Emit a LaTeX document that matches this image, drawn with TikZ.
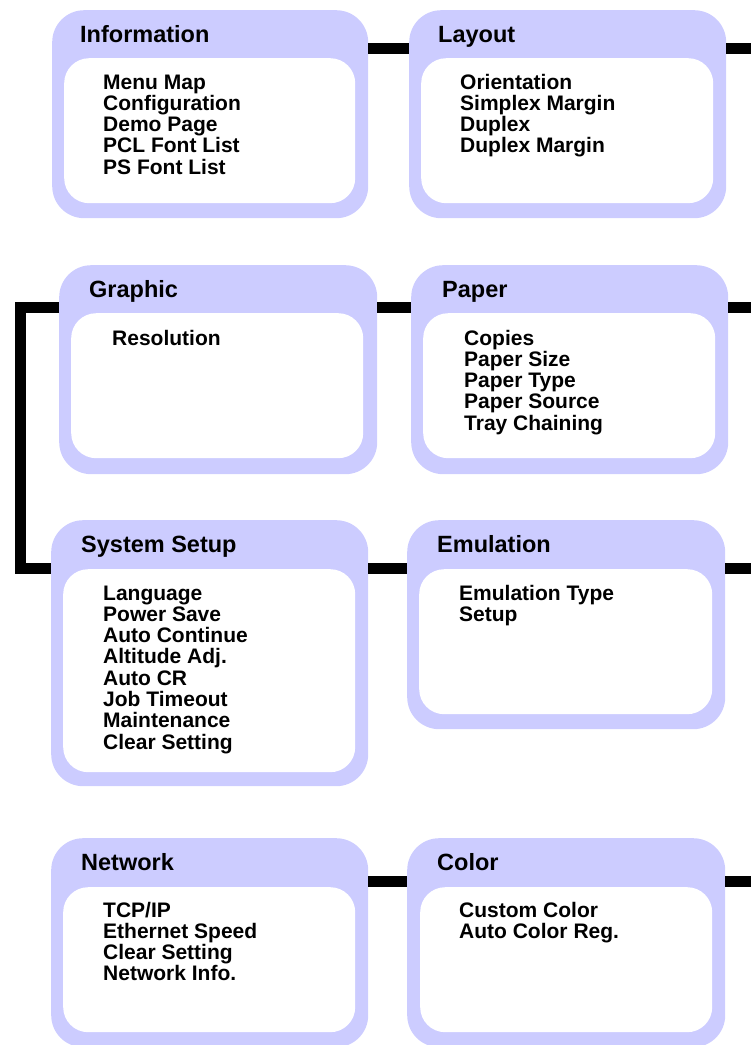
\documentclass[tikz,border=0pt]{standalone}
\usepackage{fontspec}
\setmainfont{Liberation Sans}
\definecolor{lav}{RGB}{204,204,255}
\newcommand\ttlfont{\fontsize{23.5}{24}\selectfont\bfseries}
\newcommand\itmfont{\fontsize{21}{21.3}\selectfont\bfseries}
\tikzset{
  outerbox/.style={fill=lav, draw=none, rounded corners=32pt, inner sep=0pt, anchor=north west},
  innerbox/.style={fill=white, draw=none, rounded corners=25pt, inner sep=0pt, anchor=north west},
  ttl/.style={anchor=base west, inner sep=0pt, font=\ttlfont},
  itm/.style={anchor=base west, inner sep=0pt, font=\itmfont},
  conn/.style={line width=11pt, black, line join=miter}
}
\begin{document}
\begin{tikzpicture}[x=1pt, y=-1pt]
\useasboundingbox (0,0) rectangle (751,1045);
% row coordinates for connectors
\coordinate (r1) at (0,48.5);
\coordinate (r2) at (0,307.5);
\coordinate (r3) at (0,568.5);
\coordinate (r4) at (0,881);
\coordinate (bx) at (20.5,0);
\coordinate (e1) at (751,48.5);
\coordinate (e2) at (751,307.5);
\coordinate (e3) at (751,568.5);
\coordinate (e4) at (751,881);

% outer boxes
\node[outerbox, minimum width=316pt, minimum height=208pt] (info) at (52,10) {};
\node[outerbox, minimum width=317pt, minimum height=208pt] (layout) at (409,10) {};
\node[outerbox, minimum width=318pt, minimum height=209pt] (graph) at (59,265) {};
\node[outerbox, minimum width=317pt, minimum height=209pt] (paper) at (411,265) {};
\node[outerbox, minimum width=317pt, minimum height=266pt] (sys) at (51,520) {};
\node[outerbox, minimum width=318pt, minimum height=209pt] (emu) at (407,520) {};
\node[outerbox, minimum width=317pt, minimum height=209pt] (net) at (51,838) {};
\node[outerbox, minimum width=318pt, minimum height=209pt] (col) at (407,838) {};

% inner boxes
\node[innerbox, minimum width=291pt, minimum height=145pt] (infoin) at (64,58) {};
\node[innerbox, minimum width=292pt, minimum height=145pt] (layoutin) at (421,58) {};
\node[innerbox, minimum width=292pt, minimum height=145pt] (graphin) at (71,313) {};
\node[innerbox, minimum width=292pt, minimum height=145pt] (paperin) at (423,313) {};
\node[innerbox, minimum width=292pt, minimum height=203pt] (sysin) at (63,569) {};
\node[innerbox, minimum width=293pt, minimum height=145pt] (emuin) at (419,569) {};
\node[innerbox, minimum width=292pt, minimum height=145pt] (netin) at (63,887) {};
\node[innerbox, minimum width=292pt, minimum height=145pt] (colin) at (420,887) {};

% titles
\node[ttl] (infot) at (80,42) {Information};
\node[ttl] (layoutt) at (438,42) {Layout};
\node[ttl] (grapht) at (89,297) {Graphic};
\node[ttl] (papert) at (442,297) {Paper};
\node[ttl] (syst) at (81,552) {System Setup};
\node[ttl] (emut) at (437,552) {Emulation};
\node[ttl] (nett) at (81,870) {Network};
\node[ttl] (colt) at (437,870) {Color};

% items
\node[itm] (infoi) at (103,89) {\parbox[t]{240pt}{Menu Map\\Configuration\\Demo Page\\PCL Font List\\PS Font List}};
\node[itm] (layouti) at (460,89) {\parbox[t]{240pt}{Orientation\\Simplex Margin\\Duplex\\Duplex Margin}};
\node[itm] (graphi) at (112,345) {\parbox[t]{240pt}{Resolution}};
\node[itm] (paperi) at (464,345) {\parbox[t]{240pt}{Copies\\Paper Size\\Paper Type\\Paper Source\\Tray Chaining}};
\node[itm] (sysi) at (103,600) {\parbox[t]{240pt}{Language\\Power Save\\Auto Continue\\Altitude Adj.\\Auto CR\\Job Timeout\\Maintenance\\Clear Setting}};
\node[itm] (emui) at (459,600) {\parbox[t]{240pt}{Emulation Type\\Setup}};
\node[itm] (neti) at (103,917) {\parbox[t]{240pt}{TCP/IP\\Ethernet Speed\\Clear Setting\\Network Info.}};
\node[itm] (coli) at (459,917) {\parbox[t]{240pt}{Custom Color\\Auto Color Reg.}};

% connectors
\draw[conn] (info.east |- r1) -- (layout.west |- r1);
\draw[conn] (layout.east |- r1) -- (e1);
\draw[conn] (graph.east |- r2) -- (paper.west |- r2);
\draw[conn] (paper.east |- r2) -- (e2);
\draw[conn] (sys.east |- r3) -- (emu.west |- r3);
\draw[conn] (emu.east |- r3) -- (e3);
\draw[conn] (net.east |- r4) -- (col.west |- r4);
\draw[conn] (col.east |- r4) -- (e4);
\draw[conn] (graph.west |- r2) -- (bx |- r2) -- (bx |- r3) -- (sys.west |- r3);
\end{tikzpicture}
\end{document}
